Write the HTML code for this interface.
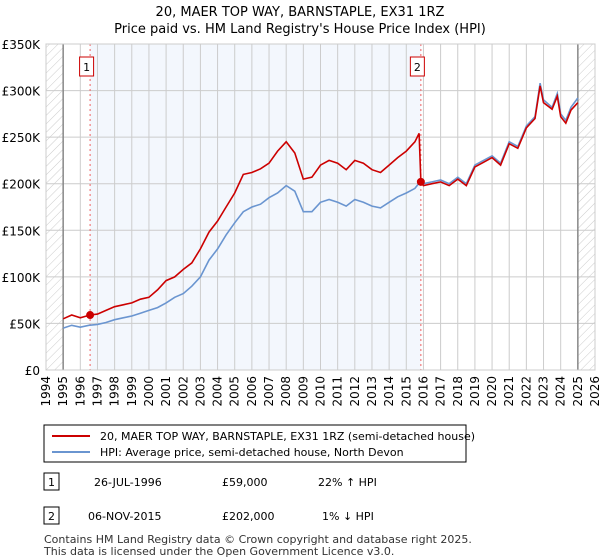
<!DOCTYPE html>
<html><head><meta charset="utf-8"><style>
body{margin:0;background:#fff;font-family:"Liberation Sans","DejaVu Sans",sans-serif;}
#wrap{position:relative;width:600px;height:560px;overflow:hidden}
text{font-family:"DejaVu Sans","Liberation Sans",sans-serif}
</style></head><body><div id="wrap">
<svg id="svg" width="600" height="560" xmlns="http://www.w3.org/2000/svg">
<defs><pattern id="hatch" width="6" height="6" patternUnits="userSpaceOnUse" patternTransform="rotate(45)"><line x1="0" y1="0" x2="0" y2="6" stroke="#ccc" stroke-width="1"/></pattern></defs>
<text x="300" y="16" text-anchor="middle" font-size="13">20, MAER TOP WAY, BARNSTAPLE, EX31 1RZ</text>
<text x="300" y="33" text-anchor="middle" font-size="13">Price paid vs. HM Land Registry's House Price Index (HPI)</text>
<g id="plot"></g>
<rect x="44" y="425" width="422" height="37" fill="#fff" stroke="#000"/>
<line x1="52" y1="436" x2="90" y2="436" stroke="#cc0000" stroke-width="2"/>
<text x="100" y="440" font-size="11">20, MAER TOP WAY, BARNSTAPLE, EX31 1RZ (semi-detached house)</text>
<line x1="52" y1="452" x2="90" y2="452" stroke="#6a95d0" stroke-width="2"/>
<text x="100" y="456" font-size="11">HPI: Average price, semi-detached house, North Devon</text>
<rect x="44" y="473" width="15" height="17" fill="#fff" stroke="#000"/>
<text x="51.5" y="486" text-anchor="middle" font-size="11">1</text>
<text x="94" y="486" font-size="11">26-JUL-1996</text>
<text x="222" y="486" font-size="11">£59,000</text>
<text x="318" y="486" font-size="11">22% ↑ HPI</text>
<rect x="44" y="507" width="15" height="17" fill="#fff" stroke="#000"/>
<text x="51.5" y="520" text-anchor="middle" font-size="11">2</text>
<text x="88" y="520" font-size="11">06-NOV-2015</text>
<text x="222" y="520" font-size="11">£202,000</text>
<text x="322" y="520" font-size="11">1% ↓ HPI</text>
<text x="44" y="543" font-size="11" fill="#333">Contains HM Land Registry data © Crown copyright and database right 2025.</text>
<text x="44" y="555" font-size="11" fill="#333">This data is licensed under the Open Government Licence v3.0.</text>
</svg></div>
<script>
const hpiYears=[1995,1995.5,1996,1996.5,1997,1997.5,1998,1998.5,1999,1999.5,2000,2000.5,2001,2001.5,2002,2002.5,2003,2003.5,2004,2004.5,2005,2005.5,2006,2006.5,2007,2007.5,2008,2008.5,2009,2009.5,2010,2010.5,2011,2011.5,2012,2012.5,2013,2013.5,2014,2014.5,2015,2015.5,2015.85,2016,2016.5,2017,2017.5,2018,2018.5,2019,2019.5,2020,2020.5,2021,2021.5,2022,2022.5,2022.8,2023,2023.5,2023.8,2024,2024.3,2024.6,2025];
const hpiValues=[45,48,46,48,49,51,54,56,58,61,64,67,72,78,82,90,100,118,130,145,158,170,175,178,185,190,198,192,170,170,180,183,180,176,183,180,176,174,180,186,190,195,203,200,202,204,200,207,200,220,225,230,222,245,240,262,272,308,290,282,297,275,268,282,292];
const priceYears=[1995,1995.5,1996,1996.57,1997,1997.5,1998,1998.5,1999,1999.5,2000,2000.5,2001,2001.5,2002,2002.5,2003,2003.5,2004,2004.5,2005,2005.5,2006,2006.5,2007,2007.5,2008,2008.5,2009,2009.5,2010,2010.5,2011,2011.5,2012,2012.5,2013,2013.5,2014,2014.5,2015,2015.5,2015.75,2015.85,2016,2016.5,2017,2017.5,2018,2018.5,2019,2019.5,2020,2020.5,2021,2021.5,2022,2022.5,2022.8,2023,2023.5,2023.8,2024,2024.3,2024.6,2025];
const priceValues=[55,59,56,59,60,64,68,70,72,76,78,86,96,100,108,115,130,148,160,175,190,210,212,216,222,235,245,233,205,207,220,225,222,215,225,222,215,212,220,228,235,245,254,202,198,200,202,198,205,198,218,223,228,220,243,238,260,270,305,287,280,294,272,265,279,287];
const saleYears=[1996.57,2015.85];
const saleValues=[59,202];
const xTicks=[1994,1995,1996,1997,1998,1999,2000,2001,2002,2003,2004,2005,2006,2007,2008,2009,2010,2011,2012,2013,2014,2015,2016,2017,2018,2019,2020,2021,2022,2023,2024,2025,2026];
const yTicks=[0,50,100,150,200,250,300,350];
const yLabels=["£0","£50K","£100K","£150K","£200K","£250K","£300K","£350K"];
const X0=46,X1=595,Y0=370,Y1=44;
const xs=y=>X0+(y-1994)/32*(X1-X0);
const ys=v=>Y0-v/350*(Y0-Y1);
const NS="http://www.w3.org/2000/svg";
const g=document.getElementById('plot');
function mk(t,a,p){const e=document.createElementNS(NS,t);for(const k in a)e.setAttribute(k,a[k]);(p||g).appendChild(e);return e;}
let e;
e=mk('rect',{x:xs(saleYears[0]),y:Y1,width:xs(saleYears[1])-xs(saleYears[0]),height:Y0-Y1,fill:'#eef3fc',opacity:0.7});


e=mk('rect',{x:X0,y:Y1,width:xs(1995)-X0,height:Y0-Y1,fill:'url(#hatch)'});


e=mk('rect',{x:xs(2025),y:Y1,width:X1-xs(2025),height:Y0-Y1,fill:'url(#hatch)'});


xTicks.forEach((t,i)=>{
 e=mk('line',{x1:xs(t),x2:xs(t),y1:Y1,y2:Y0,stroke:'#ccc'});
 
 
 e=mk('text',{x:0,y:0,'font-size':12,'text-anchor':'end',transform:`translate(${xs(t)+4},${Y0+6}) rotate(-90)`});
 e.textContent=t;
 
 
});
yTicks.forEach((t,i)=>{
 e=mk('line',{x1:X0,x2:X1,y1:ys(t),y2:ys(t),stroke:'#ccc'});
 
 
 e=mk('text',{x:40,y:ys(t)+5,'font-size':12,'text-anchor':'end'});
 e.textContent=yLabels[i];
 
 
});
[1995,2025].forEach(t=>{e=mk('line',{x1:xs(t),x2:xs(t),y1:Y1,y2:Y0,stroke:'#888','stroke-width':1.5});
 
 });
saleYears.forEach((t,i)=>{
 e=mk('line',{x1:xs(t),x2:xs(t),y1:Y1,y2:Y0,stroke:'#f06060','stroke-dasharray':'2,3'});
 
 
 e=mk('rect',{x:xs(t)-3.5-7,y:57,width:14,height:19,fill:'#fff',stroke:'#cc0000'});
 
 
 e=mk('text',{x:xs(t)-3.5,y:71,'font-size':11,'text-anchor':'middle'});
 e.textContent=String(i+1);
 
 
});
e=mk('path',{d:hpiYears.map((t,i)=>(i?'L':'M')+xs(t).toFixed(1)+','+ys(hpiValues[i]).toFixed(1)).join(''),fill:'none',stroke:'#6a95d0','stroke-width':1.6});


e=mk('path',{d:priceYears.map((t,i)=>(i?'L':'M')+xs(t).toFixed(1)+','+ys(priceValues[i]).toFixed(1)).join(''),fill:'none',stroke:'#cc0000','stroke-width':1.6});


saleYears.forEach((t,i)=>{e=mk('circle',{cx:xs(t),cy:ys(saleValues[i]),r:4,fill:'#cc0000'});
 
 });
e=mk('rect',{x:X0,y:Y1,width:X1-X0,height:Y0-Y1,fill:'none',stroke:'#ccc'});


</script></body></html>
